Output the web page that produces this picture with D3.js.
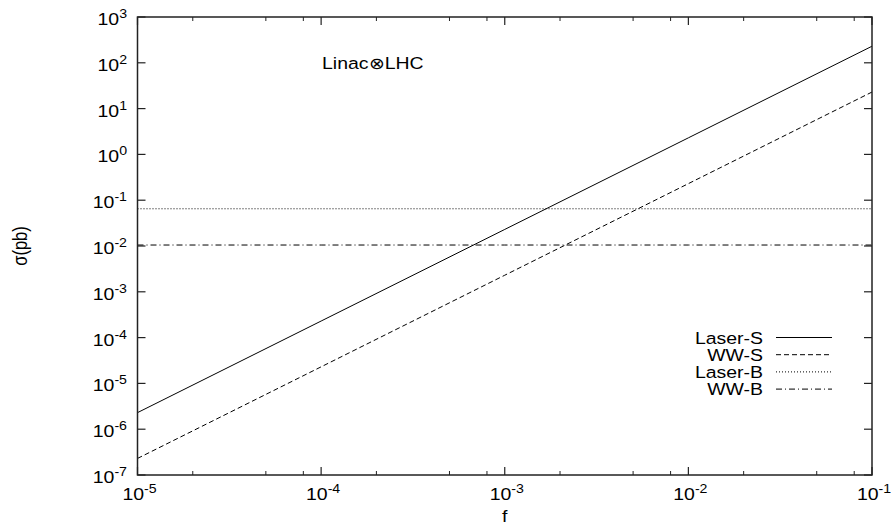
<!DOCTYPE html>
<html>
<head>
<meta charset="utf-8">
<script src="https://cdn.jsdelivr.net/npm/d3@7"></script>
<style>
  html, body { margin: 0; padding: 0; background: #fff; }
  svg { display: block; }
  text { font-family: "Liberation Sans", Arial, Helvetica, sans-serif; fill: #000; }
</style>
</head>
<body>
<svg id="chart" width="891" height="531"></svg>
<script>
// f values (decades) and cross sections in pb
const fValues = [1e-5, 1e-4, 1e-3, 1e-2, 1e-1];
const laserS = [2.3e-6, 2.3e-4, 2.3e-2, 2.3, 230];
const wwS    = [2.3e-7, 2.3e-5, 2.3e-3, 0.23, 23];
const laserB = [0.065, 0.065, 0.065, 0.065, 0.065];
const wwB    = [0.0105, 0.0105, 0.0105, 0.0105, 0.0105];

const seriesNames = ["Laser-S", "WW-S", "Laser-B", "WW-B"];
const xTickExps = [-5, -4, -3, -2, -1];
const yTickExps = [-7, -6, -5, -4, -3, -2, -1, 0, 1, 2, 3];
const minorMults = [2, 5, 8];

const dashes = ["none", "5,3", "1,2", "6,3,1,3"];
const seriesData = [laserS, wwS, laserB, wwB];

const svg = d3.select("#chart");
const L = 137.5, R = 872, T = 17, B = 475;
const sx = 1.18;   // horizontal text stretch
const fs = 16.5;

const x = d3.scaleLog().domain([1e-5, 1e-1]).range([L, R]);
const y = d3.scaleLog().domain([1e-7, 1e3]).range([B, T]);

function txt(g, px, py, anchor, size) {
  return g.append("text")
    .attr("transform", `translate(${px},${py}) scale(${sx},1)`)
    .attr("text-anchor", anchor)
    .style("font-size", (size || fs) + "px");
}
function pow10(t, e) {
  t.append("tspan").text("10");
  t.append("tspan").attr("dy", -7).style("font-size", "12px").text(e);
}

// series lines
const line = d3.line().x((d, i) => x(fValues[i])).y(d => y(d));
const gLines = svg.append("g");
seriesData.forEach((s, k) => {
  gLines.append("path")
    .datum(s)
    .attr("d", line)
    .attr("fill", "none")
    .attr("stroke", "#000")
    .attr("stroke-width", 1)
    .attr("stroke-dasharray", dashes[k]);
});

// ticks
const gAx = svg.append("g").attr("stroke", "#222");
yTickExps.forEach(e => {
  const yy = y(Math.pow(10, e));
  gAx.append("line").attr("x1", L).attr("x2", L + 8).attr("y1", yy).attr("y2", yy).attr("stroke-width", 1.2);
  gAx.append("line").attr("x1", R).attr("x2", R - 8).attr("y1", yy).attr("y2", yy).attr("stroke-width", 1.2);
});
xTickExps.forEach((e, i) => {
  const v = Math.pow(10, e);
  const xx = x(v);
  gAx.append("line").attr("x1", xx).attr("x2", xx).attr("y1", B).attr("y2", B - 8).attr("stroke-width", 1.2);
  gAx.append("line").attr("x1", xx).attr("x2", xx).attr("y1", T).attr("y2", T + 8).attr("stroke-width", 1.2);
  if (i < xTickExps.length - 1) {
    minorMults.forEach(m => {
      const xm = x(v * m);
      gAx.append("line").attr("x1", xm).attr("x2", xm).attr("y1", B).attr("y2", B - 4).attr("stroke-width", 1);
      gAx.append("line").attr("x1", xm).attr("x2", xm).attr("y1", T).attr("y2", T + 4).attr("stroke-width", 1);
    });
  }
});

// frame
svg.append("rect")
  .attr("x", L).attr("y", T).attr("width", R - L).attr("height", B - T)
  .attr("fill", "none").attr("stroke", "#222").attr("stroke-width", 1.5);

// tick labels
const gLab = svg.append("g");
yTickExps.forEach(e => {
  const t = txt(gLab, 127, y(Math.pow(10, e)) + 8, "end");
  pow10(t, e);
});
xTickExps.forEach(e => {
  const t = txt(gLab, x(Math.pow(10, e)) + 2, 500, "middle");
  pow10(t, e);
});

// axis titles
txt(svg, x(1e-3), 522, "middle").text("f");
svg.append("text")
  .attr("transform", `translate(27,${(T + B) / 2}) rotate(-90) scale(1,${sx})`)
  .attr("text-anchor", "middle")
  .style("font-size", fs + "px")
  .text("σ(pb)");

// annotation
txt(svg, 322, 69, "start").text("Linac⊗LHC");

// legend
const legY0 = 337.5, legDy = 17.2;
seriesNames.forEach((n, k) => {
  const yy = legY0 + k * legDy;
  txt(svg, 763, yy + 6, "end").text(n);
  svg.append("line")
    .attr("x1", 776).attr("x2", 832).attr("y1", yy).attr("y2", yy)
    .attr("stroke", "#000").attr("stroke-width", 1)
    .attr("stroke-dasharray", dashes[k]);
});
</script>
</body>
</html>
